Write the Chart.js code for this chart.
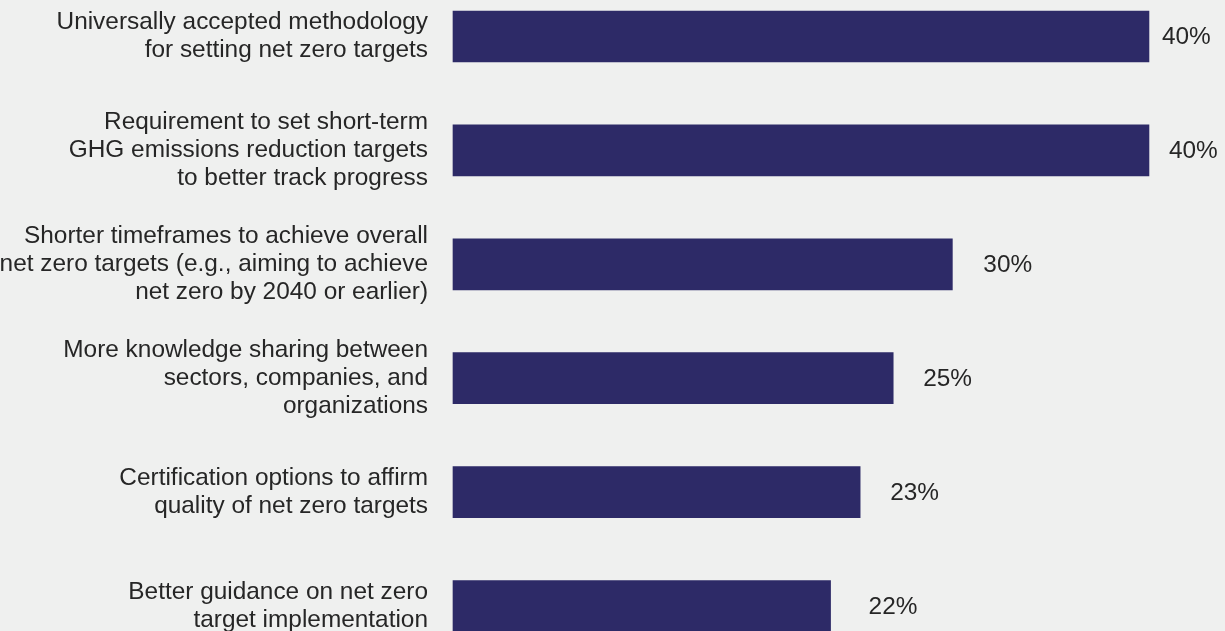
<!DOCTYPE html>
<html>
<head>
<meta charset="utf-8">
<script src="https://cdn.jsdelivr.net/npm/chart.js@4/dist/chart.umd.min.js"></script>
<style>
  html, body { margin: 0; padding: 0; background: #eff0ef; }
  #wrap { width: 1225px; height: 631px; position: relative; }
</style>
</head>
<body>
<div id="wrap"><canvas id="myChart"></canvas></div>
<script>
// categories (split into lines like the original)
const categories = [
  ["Universally accepted methodology", "for setting net zero targets"],
  ["Requirement to set short-term", "GHG emissions reduction targets", "to better track progress"],
  ["Shorter timeframes to achieve overall", "net zero targets (e.g., aiming to achieve", "net zero by 2040 or earlier)"],
  ["More knowledge sharing between", "sectors, companies, and", "organizations"],
  ["Certification options to affirm", "quality of net zero targets"],
  ["Better guidance on net zero", "target implementation"]
]
// bar lengths
const values = [40, 40, 28.7, 25.3, 23.4, 21.7]
// printed labels
const valueLabels = ["40%", "40%", "30%", "25%", "23%", "22%"]

// gap between bar end and its label (px), as in the reference
const labelGap = [13, 20, 31, 30, 30, 38]

const textColor = '#262626'
const barColor = '#2d2a67'
const fontFamily = '"Liberation Sans", Arial, Helvetica, sans-serif'

const valueLabelPlugin = {
  id: 'valueLabels',
  afterDatasetsDraw(chart) {
    const ctx = chart.ctx
    const meta = chart.getDatasetMeta(0)
    ctx.save()
    ctx.font = '24.4px ' + fontFamily
    ctx.fillStyle = textColor
    ctx.textAlign = 'left'
    ctx.textBaseline = 'middle'
    meta.data.forEach((bar, i) => {
      ctx.fillText(valueLabels[i], bar.x + labelGap[i], bar.y + 1)
    })
    ctx.restore()
  }
}

const ctx = document.getElementById('myChart').getContext('2d')
const myChart = new Chart(ctx, {
  type: 'bar',
  data: {
    labels: categories,
    datasets: [{
      data: values,
      backgroundColor: barColor,
      borderWidth: 0,
      barThickness: 51,
      clip: false
    }]
  },
  plugins: [valueLabelPlugin],
  options: {
    indexAxis: 'y',
    responsive: true,
    maintainAspectRatio: false,
    animation: false,
    layout: {
      padding: { top: 36.5, bottom: 25, left: 0, right: 0 }
    },
    plugins: {
      legend: { display: false },
      tooltip: { enabled: false }
    },
    scales: {
      x: {
        display: false,
        min: 0,
        max: 44.37
      },
      y: {
        offset: false,
        grid: { display: false },
        border: { display: false },
        ticks: {
          color: textColor,
          padding: 17,
          font: { family: fontFamily, size: 24.4, lineHeight: 1.15 }
        },
        afterFit(scale) {
          scale.width = 453
          scale.paddingTop = 0
          scale.paddingBottom = 0
        }
      }
    }
  }
})
</script>
</body>
</html>
